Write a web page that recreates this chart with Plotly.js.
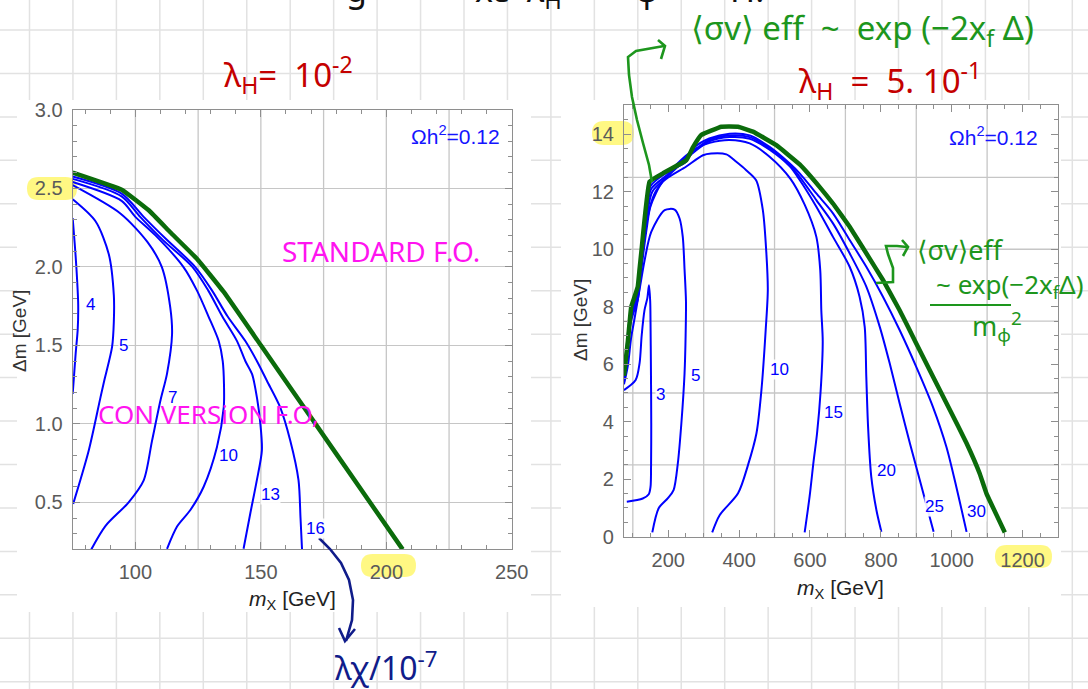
<!DOCTYPE html>
<html><head><meta charset="utf-8">
<script src="https://cdn.plot.ly/plotly-3.0.1.min.js"></script>
<style>html,body{margin:0;padding:0;background:#fff;}#chart{width:1088px;height:689px;}</style>
</head><body><div id="chart"></div>
<script>
// ---------------- DATA ----------------
// Left panel (lambda_H = 1e-2): contour levels of lambda_X / 1e-7
const leftLevels = [4, 5, 7, 10, 13, 16];
const leftXTicks = [100, 150, 200, 250];
const leftYTicks = [0.5, 1.0, 1.5, 2.0, 2.5, 3.0];
const L4x  = [75, 75.8, 76.5, 77.2, 77.0, 76.2, 75.6, 75.0];
const L4y  = [2.31, 2.15, 1.99, 1.76, 1.60, 1.45, 1.32, 1.19];
const L5x  = [75, 84.1, 89.4, 91.4, 91.4, 90.7, 87.5, 86.1, 81.4, 75.2];
const L5y  = [2.43, 2.29, 2.08, 1.82, 1.65, 1.49, 1.27, 1.17, 0.83, 0.49];
const L7x  = [75, 94.0, 104.7, 110.5, 113.9, 114.6, 112.6, 110.0, 106.6, 103.3, 97.3, 88.1, 82.4];
const L7y  = [2.52, 2.34, 2.16, 2.0, 1.74, 1.57, 1.32, 1.15, 0.89, 0.64, 0.50, 0.35, 0.20];
const L10x = [75, 94.5, 99.9, 108, 119.1, 124.5, 129.1, 133.2, 134.8, 135.3, 135.2, 132.5, 127.2, 121.9, 116.6, 112.6];
const L10y = [2.54, 2.42, 2.32, 2.2, 2.0, 1.85, 1.685, 1.527, 1.40, 1.25, 1.105, 0.852, 0.599, 0.451, 0.346, 0.204];
const L13x = [75, 94.5, 101.9, 111, 122.7, 129, 134.6, 140.5, 143.8, 146.5, 148.5, 149.8, 150.4, 148.4, 145.8, 143.1];
const L13y = [2.56, 2.449, 2.318, 2.17, 2.0, 1.85, 1.685, 1.527, 1.40, 1.316, 1.16, 1.0, 0.831, 0.641, 0.43, 0.204];
const L16x = [75, 94.5, 103.2, 112, 123.8, 130.5, 136.7, 143.8, 148.4, 152.4, 157.7, 161.7, 165, 165.8, 166.4];
const L16y = [2.575, 2.466, 2.32, 2.18, 2.0, 1.85, 1.685, 1.527, 1.40, 1.274, 1.105, 0.894, 0.641, 0.40, 0.2];
const LGx  = [75, 94.7, 105.3, 113.9, 124.6, 135.2, 150, 170, 190, 206.5];
const LGy  = [2.60, 2.49, 2.36, 2.22, 2.05, 1.84, 1.50, 1.04, 0.58, 0.20];

// Right panel (lambda_H = 5e-1)
const rightLevels = [3, 5, 10, 15, 20, 25, 30];
const rightXTicks = [200, 400, 600, 800, 1000, 1200];
const rightYTicks = [0, 2, 4, 6, 8, 10, 12, 14];
const R3x  = [83, 128, 145, 150, 151.5, 152, 151, 150, 149, 145.5, 141, 133, 125, 119, 108, 75];
const R3y  = [1.22, 1.33, 1.48, 1.74, 2.5, 3.94, 6.0, 7.42, 8.2, 8.75, 8.3, 7.88, 7.0, 6.03, 5.45, 5.1];
const R5x  = [75, 86, 95, 105, 119, 133, 152, 190, 218, 232, 241, 246, 250, 249, 246, 237, 227, 215, 199, 173, 155];
const R5y  = [5.3, 5.95, 6.9, 7.6, 8.6, 9.6, 10.6, 11.36, 11.38, 11.07, 10.43, 9.3, 8.2, 7.0, 5.68, 3.94, 2.55, 1.62, 1.34, 0.99, 0.15];
const R10x = [75, 95, 114, 124, 140, 150, 185, 250, 298, 321, 364, 392, 420, 448, 467, 477, 481, 475, 463, 449, 425, 397, 345, 324];
const R10y = [5.35, 7.5, 8.25, 9.3, 10.8, 11.5, 12.35, 12.87, 13.27, 13.33, 13.3, 13.04, 12.75, 12.4, 11.36, 9.85, 8.58, 7.19, 5.1, 3.6, 2.49, 1.51, 0.75, 0.15];
const R15x = [75, 95, 114, 124, 140, 160, 222, 279, 317, 373, 430, 486, 545, 585, 618, 629, 632, 636, 630, 620, 610, 599, 585];
const R15y = [5.4, 7.6, 8.35, 9.4, 11.0, 11.9, 12.93, 13.51, 13.7, 13.8, 13.68, 13.22, 12.45, 11.55, 10.43, 9.27, 7.88, 6.8, 5.05, 3.6, 2.6, 1.4, 0.15];
const R20x = [75, 95, 114, 124, 140, 155, 204, 265, 316, 373, 430, 486, 543, 571, 618, 665, 712, 740, 754.5, 759, 764, 773, 787.5, 801.6];
const R20y = [5.45, 7.7, 8.45, 9.5, 11.15, 12.0, 12.6, 13.3, 13.75, 13.9, 13.84, 13.46, 12.88, 12.41, 11.48, 10.43, 9.39, 8.35, 7.30, 5.57, 3.83, 2.09, 0.93, 0.17];
const R25x = [75, 95, 114, 124, 140, 152, 204, 260, 316, 373, 430, 486, 543, 571, 618, 665, 712, 759, 797, 825, 853, 882, 915, 949];
const R25y = [5.5, 7.8, 8.5, 9.6, 11.3, 12.1, 12.65, 13.3, 13.8, 13.96, 13.9, 13.51, 12.93, 12.52, 11.71, 10.9, 9.86, 8.70, 7.30, 6.03, 4.64, 3.25, 1.74, 0.17];
const R30x = [75, 95, 114, 124, 140, 150, 200, 251, 270, 316, 373, 430, 486, 543, 571, 618, 665, 712, 759, 806, 853, 900, 947, 985, 1013, 1042];
const R30y = [5.55, 7.9, 8.6, 9.7, 11.45, 12.2, 12.7, 13.05, 13.5, 13.85, 14.02, 13.96, 13.56, 12.98, 12.64, 11.94, 11.25, 10.32, 9.39, 8.35, 7.19, 5.91, 4.52, 3.13, 1.74, 0.17];
const RGx  = [75, 86, 95.5, 105, 114, 119, 124, 147, 185, 251, 270, 293, 350, 397, 439, 505, 571, 627, 665, 712, 759, 806, 853, 900, 947, 995, 1042, 1079, 1098, 1150];
const RGy  = [5.6, 6.8, 8.0, 8.35, 8.7, 9.3, 9.9, 12.35, 12.64, 13.1, 13.55, 13.97, 14.26, 14.26, 14.09, 13.62, 12.95, 12.17, 11.59, 10.78, 9.86, 8.93, 7.88, 6.72, 5.57, 4.41, 3.25, 2.2, 1.51, 0.15];

// ---------------- HELPERS ----------------
const W = 1088, H = 689;
const PX = v => v / W, PY = v => 1 - v / H;
const BLUE = '#0000ff', GREEN = '#0b6b0b', HGREEN = '#1d961d', RED = '#c40000', MAG = '#ff14f0', NAVY = '#101c8a';
const FONT = 'Liberation Sans, Arial, sans-serif';
const HAND = 'Noto Sans, DejaVu Sans, sans-serif';

function blueLine(x, y, xa, ya) {
  return {x: x, y: y, xaxis: xa, yaxis: ya, type: 'scatter', mode: 'lines',
    line: {color: BLUE, width: 2, shape: 'spline', smoothing: 0.8}, hoverinfo: 'skip', showlegend: false};
}
function greenLine(x, y, xa, ya) {
  return {x: x, y: y, xaxis: xa, yaxis: ya, type: 'scatter', mode: 'lines',
    line: {color: GREEN, width: 4.5, shape: 'spline', smoothing: 0.25}, hoverinfo: 'skip', showlegend: false};
}
const traces = [
  blueLine(L4x, L4y, 'x', 'y'), blueLine(L5x, L5y, 'x', 'y'), blueLine(L7x, L7y, 'x', 'y'),
  blueLine(L10x, L10y, 'x', 'y'), blueLine(L13x, L13y, 'x', 'y'), blueLine(L16x, L16y, 'x', 'y'),
  greenLine(LGx, LGy, 'x', 'y'),
  blueLine(R3x, R3y, 'x2', 'y2'), blueLine(R5x, R5y, 'x2', 'y2'), blueLine(R10x, R10y, 'x2', 'y2'),
  blueLine(R15x, R15y, 'x2', 'y2'), blueLine(R20x, R20y, 'x2', 'y2'), blueLine(R25x, R25y, 'x2', 'y2'),
  blueLine(R30x, R30y, 'x2', 'y2'),
  greenLine(RGx, RGy, 'x2', 'y2')
];

// ---------------- SHAPES ----------------
const shapes = [];
// notebook grid paper
for (let k = 0; k < 26; k++) {
  const x = 29.5 + 43.45 * k; if (x > W) break;
  shapes.push({type: 'line', xref: 'paper', yref: 'paper', x0: PX(x), x1: PX(x), y0: 0, y1: 1, layer: 'below', line: {color: '#e2e2e2', width: 1.5}});
}
for (let k = 0; k < 17; k++) {
  const y = 30 + 43.45 * k; if (y > H) break;
  shapes.push({type: 'line', xref: 'paper', yref: 'paper', x0: 0, x1: 1, y0: PY(y), y1: PY(y), layer: 'below', line: {color: '#e2e2e2', width: 1.5}});
}
// pasted white plot images
function whiteRect(x0, y0, x1, y1) {
  shapes.push({type: 'rect', xref: 'paper', yref: 'paper', x0: PX(x0), x1: PX(x1), y0: PY(y1), y1: PY(y0), layer: 'below', line: {width: 0}, fillcolor: '#ffffff'});
}
whiteRect(17, 100, 531, 612);
whiteRect(561, 100, 1061, 607);
// yellow highlighter
function pill(x0, y0, x1, y1) {
  const r = (y1 - y0) / 2, ym = (y0 + y1) / 2;
  const p = (x, y) => PX(x).toFixed(5) + ',' + PY(y).toFixed(5);
  const d = 'M' + p(x0 + r, y0) + ' L' + p(x1 - r, y0) + ' Q' + p(x1, y0) + ' ' + p(x1, ym) +
    ' Q' + p(x1, y1) + ' ' + p(x1 - r, y1) + ' L' + p(x0 + r, y1) + ' Q' + p(x0, y1) + ' ' + p(x0, ym) +
    ' Q' + p(x0, y0) + ' ' + p(x0 + r, y0) + ' Z';
  shapes.push({type: 'path', xref: 'paper', yref: 'paper', path: d, layer: 'below', line: {width: 0}, fillcolor: 'rgba(255,245,90,0.75)'});
}
pill(27, 177, 77, 200);
pill(361, 554, 416, 577);
pill(592, 121, 634, 145);
pill(995, 545, 1052, 568);
// panel grid lines (Mathematica GridLines)
const gridStyle = {color: '#c6c6c6', width: 1.3};
[100, 125, 150, 175, 200, 225].forEach(v => shapes.push({type: 'line', xref: 'x', yref: 'y domain', x0: v, x1: v, y0: 0, y1: 1, layer: 'below', line: gridStyle}));
[100, 300, 500, 700, 900, 1100].forEach(v => shapes.push({type: 'line', xref: 'x2', yref: 'y2 domain', x0: v, x1: v, y0: 0, y1: 1, layer: 'below', line: gridStyle}));
[2.5, 5, 7.5, 10, 12.5].forEach(v => shapes.push({type: 'line', xref: 'x2 domain', yref: 'y2', x0: 0, x1: 1, y0: v, y1: v, layer: 'below', line: gridStyle}));
// hand-drawn arrows
function stroke(pts, color, width) {
  const d = pts.map((q, i) => (i ? 'L' : 'M') + PX(q[0]).toFixed(5) + ',' + PY(q[1]).toFixed(5)).join(' ');
  shapes.push({type: 'path', xref: 'paper', yref: 'paper', path: d, layer: 'above', line: {color: color, width: width}});
}
stroke([[319, 538], [330, 549], [341, 563], [349, 580], [353, 600], [352, 620], [346, 641]], NAVY, 2.6);
stroke([[339, 628], [345, 641], [355, 629]], NAVY, 2.6);
stroke([[652, 182], [649, 165], [643, 143], [637, 120], [632, 97], [629, 75], [628, 57], [636, 51], [664, 46]], HGREEN, 2.6);
stroke([[658, 40], [665, 46], [661, 59]], HGREEN, 2.6);
stroke([[876, 283], [893, 282], [893, 268], [888, 254], [886, 246], [897, 246], [907, 247]], HGREEN, 2.6);
stroke([[902, 240], [908, 247], [903, 256]], HGREEN, 2.6);
stroke([[930, 305], [1011, 305]], HGREEN, 2.2);

// ---------------- ANNOTATIONS ----------------
const ann = [];
function note(text, x, y, size, color, family, extra) {
  ann.push(Object.assign({xref: 'paper', yref: 'paper', x: PX(x), y: PY(y), text: text, showarrow: false,
    xanchor: 'center', yanchor: 'middle', font: {family: family || FONT, size: size, color: color}}, extra || {}));
}
// panel texts
note('Ωh<sup>2</sup>=0.12', 455, 135, 21, '#1414ff');
note('Ωh<sup>2</sup>=0.12', 993, 136, 21, '#1414ff');
note('Δm [GeV]', 19, 331, 19, '#333333', FONT, {textangle: -90});
note('Δm [GeV]', 580, 320, 19, '#333333', FONT, {textangle: -90});
note('<i>m</i><sub>X</sub> [GeV]', 292, 600, 21, '#222222');
note('<i>m</i><sub>X</sub> [GeV]', 840, 589, 21, '#222222');
// contour labels
const leftLabelPos = [[82.1, 1.76], [95.3, 1.50], [114.6, 1.17], [137.2, 0.80], [153.7, 0.55], [171.7, 0.335]];
leftLevels.forEach((lv, i) => ann.push({xref: 'x', yref: 'y', x: leftLabelPos[i][0], y: leftLabelPos[i][1], text: String(lv),
  showarrow: false, font: {family: FONT, size: 17, color: BLUE}, bgcolor: 'rgba(255,255,255,0.9)', borderpad: 0}));
const rightLabelPos = [[177, 4.93], [277, 5.62], [514, 5.8], [666, 4.33], [816, 2.32], [952, 1.04], [1070, 0.87]];
rightLevels.forEach((lv, i) => ann.push({xref: 'x2', yref: 'y2', x: rightLabelPos[i][0], y: rightLabelPos[i][1], text: String(lv),
  showarrow: false, font: {family: FONT, size: 17, color: BLUE}, bgcolor: 'rgba(255,255,255,0.9)', borderpad: 0}));
// handwriting
note('g       ≈  xε  λ<sub>H</sub>   +   φ    ·   H.', 555, -9, 34, '#111111', HAND);
note('λ<sub>H</sub>=  10<sup>-2</sup>', 288, 74, 33, RED, HAND);
note('λ<sub>H</sub>  =  5. 10<sup>-1</sup>', 890, 80, 33, RED, HAND);
note('STANDARD F.O.', 381, 251, 28, MAG, HAND);
note('CON VERSiON F.O,', 208, 414, 26, MAG, HAND);
note('λχ/10<sup>-7</sup>', 386, 666, 32, NAVY, HAND);
note('⟨σv⟩ eff  ~  exp (−2x<sub>f</sub> Δ)', 862, 29, 33, HGREEN, HAND);
note('⟨σv⟩eff', 960, 249, 27, HGREEN, HAND);
note('~ exp(−2x<sub>f</sub>Δ)', 1010, 285, 26, HGREEN, HAND);
note('m<sub>φ</sub><sup>2</sup>', 997, 326, 27, HGREEN, HAND);

// ---------------- AXES ----------------
const axCol = '#8e8e8e';
const tickFont = {family: FONT, size: 20, color: '#5a5a5a'};
function axis(extra) {
  return Object.assign({ticks: 'inside', ticklen: 7, tickwidth: 1, tickcolor: axCol, showline: true, linecolor: axCol, linewidth: 1,
    mirror: 'allticks', showgrid: false, zeroline: false, tickfont: tickFont, fixedrange: true}, extra);
}
const layout = {
  width: W, height: H, margin: {l: 0, r: 0, t: 0, b: 0}, autosize: false,
  paper_bgcolor: '#ffffff', plot_bgcolor: 'rgba(0,0,0,0)', showlegend: false,
  xaxis: axis({domain: [0.0668, 0.4704], range: [75, 250], anchor: 'y', tickmode: 'array', tickvals: leftXTicks,
    ticktext: leftXTicks.map(String), minor: {ticks: 'inside', tick0: 0, dtick: 10, ticklen: 4, tickcolor: axCol}, ticklabelstandoff: 5}),
  yaxis: axis({domain: [0.2026, 0.8406], range: [0.2, 3.0], anchor: 'x', tickmode: 'array', tickvals: leftYTicks,
    ticktext: leftYTicks.map(v => v.toFixed(1)), showgrid: true, gridcolor: '#c6c6c6', gridwidth: 1.3,
    minor: {ticks: 'inside', tick0: 0, dtick: 0.1, ticklen: 4, tickcolor: axCol}, ticklabelstandoff: 5}),
  xaxis2: axis({domain: [0.5735, 0.9724], range: [75, 1300], anchor: 'y2', tickmode: 'array', tickvals: rightXTicks,
    ticktext: rightXTicks.map(String), minor: {ticks: 'inside', tick0: 0, dtick: 50, ticklen: 4, tickcolor: axCol}, ticklabelstandoff: 5}),
  yaxis2: axis({domain: [0.2210, 0.8469], range: [0, 15], anchor: 'x2', tickmode: 'array', tickvals: rightYTicks,
    ticktext: rightYTicks.map(String), minor: {ticks: 'inside', tick0: 0, dtick: 0.5, ticklen: 4, tickcolor: axCol}, ticklabelstandoff: 5}),
  shapes: shapes,
  annotations: ann
};
Plotly.newPlot('chart', traces, layout, {staticPlot: true, displayModeBar: false});
</script></body></html>
